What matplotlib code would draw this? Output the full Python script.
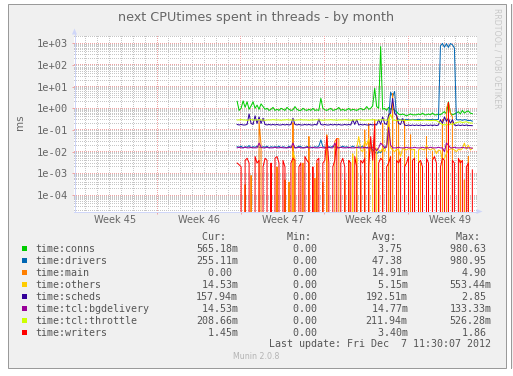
import numpy as np
import matplotlib
matplotlib.use("Agg")
import matplotlib.pyplot as plt
from matplotlib.patches import Rectangle, Polygon
from matplotlib.lines import Line2D
from matplotlib.colors import to_rgba
import matplotlib.transforms as mtransforms
from matplotlib.ticker import FixedLocator, NullLocator, FuncFormatter

W, H, DPI = 513, 376, 100

# ---------------- data ----------------
# time in days since Mon 5 Nov 2012 00:00, one sample every 4 hours
T_START = 13.70
T_STEP = 1.0 / 6.0

conns = [
    2.1, 0.8, 1.0, 2.2, 1.1, 2.0, 0.9, 1.3, 2.0, 1.0,
    1.4, 0.9, 1.6, 1.2, 0.9, 1.0, 0.8, 0.9, 1.1, 0.8,
    0.9, 0.8, 1.0, 0.9, 0.8, 1.1, 0.9, 0.8, 0.85, 1.2,
    0.9, 0.8, 0.8, 1.0, 0.85, 0.8, 0.9, 0.8, 1.0, 0.8,
    0.85, 0.8, 2.9, 1.0, 0.85, 0.8, 0.9, 1.0, 0.8, 0.85,
    0.9, 1.1, 0.8, 0.9, 0.8, 0.85, 1.0, 0.8, 0.9, 0.85,
    0.8, 0.9, 1.0, 0.85, 0.9, 1.2, 0.9, 1.0, 1.3, 8.4,
    1.2, 1.0, 700.0, 0.9, 1.0, 0.8, 1.1, 0.9, 1.0, 0.8,
    0.7, 0.55, 0.5, 0.55, 0.5, 0.45, 0.5, 0.55, 0.5, 0.5,
    0.5, 0.55, 0.5, 0.6, 0.5, 0.5, 0.55, 0.5, 0.6, 0.5,
    0.5, 0.55, 0.5, 0.6, 0.7, 0.55, 2.0, 0.6, 0.5, 0.55,
    0.6, 0.7, 0.55, 0.8, 0.6, 0.7, 0.75, 0.6, 0.565,
]
drivers = [
    0.017, 0.016, 0.018, 0.015, 0.017, 0.016, 0.019, 0.015, 0.017, 0.016,
    0.018, 0.016, 0.015, 0.017, 0.016, 0.018, 0.015, 0.017, 0.016, 0.017,
    0.016, 0.018, 0.015, 0.017, 0.016, 0.015, 0.018, 0.016, 0.017, 0.015,
    0.016, 0.018, 0.017, 0.015, 0.016, 0.017, 0.018, 0.016, 0.015, 0.017,
    0.016, 0.018, 0.035, 0.017, 0.016, 0.015, 0.017, 0.016, 0.018, 0.016,
    0.017, 0.015, 0.016, 0.018, 0.016, 0.017, 0.015, 0.016, 0.018, 0.016,
    0.015, 0.017, 0.016, 0.018, 0.016, 0.015, 0.017, 0.016, 0.012, 0.010,
    0.008, 0.010, 0.009, 0.012, 0.016, 0.020, 0.30, 5.5, 3.5, 6.0,
    0.40, 0.31, 0.30, 0.32, 0.30, 0.31, 0.30, 0.29, 0.31, 0.30,
    0.30, 0.31, 0.30, 0.29, 0.30, 0.31, 0.30, 0.30, 0.31, 0.30,
    0.30, 0.31, 750.0, 980.95, 650.0, 960.0, 640.0, 970.0, 850.0, 600.0,
    0.30, 0.29, 0.30, 0.28, 0.30, 0.29, 0.27, 0.28, 0.255,
]
main = [
    0, 0, 0, 0, 0.0003, 0, 0, 0.0008, 0, 0,
    0, 0.25, 0.02, 0, 0, 0, 0, 0.001, 0, 0,
    0.002, 0, 0, 0, 0.0005, 0, 0.0004, 0, 0.22, 0,
    0, 0, 0, 0.003, 0, 0, 0.05, 0, 0, 0.0006,
    0, 0, 0, 0.0004, 0, 0.06, 0, 0, 0, 0.03,
    0.04, 0.04, 0, 0, 0.0005, 0, 0.004, 0, 0, 0,
    0.005, 0, 0.0008, 0, 0.1, 0, 0.2, 0, 0, 0.3,
    0, 0.0006, 0, 0.2, 0, 0, 0.4, 0, 4.9, 0,
    0.5, 0.2, 0, 0, 0.3, 0, 0, 0.06, 0, 0.0005,
    0, 0, 0.003, 0, 0, 0.05, 0, 0, 0.01, 0,
    0.0007, 0, 0, 0.3, 0, 1.0, 1.8, 0.6, 0.4, 0,
    0, 0, 0.004, 0, 0.0005, 0, 0.006, 0, 0,
]
others = [
    0, 0, 0, 0, 0, 0, 0, 0, 0, 0,
    0, 0, 0, 0, 0, 0, 0, 0, 0, 0,
    0, 0, 0, 0, 0, 0, 0, 0, 0.01, 0.005,
    0, 0, 0, 0, 0, 0, 0, 0, 0, 0,
    0.003, 0, 0, 0, 0, 0, 0, 0, 0, 0,
    0, 0, 0, 0, 0, 0, 0, 0, 0.008, 0,
    0.015, 0.05, 0.012, 0.01, 0.03, 0.02, 0.04, 0.012, 0.01, 0,
    0.015, 0.012, 0.01, 0.015, 0.01, 0.02, 0.553, 0.015, 0.012, 0.01,
    0.013, 0.012, 0.006, 0.014, 0.013, 0.012, 0.014, 0.013, 0.012, 0.013,
    0, 0.012, 0.014, 0.013, 0.012, 0.02, 0.013, 0.012, 0.014, 0.013,
    0.008, 0.012, 0.011, 0.004, 0.005, 0.008, 0.012, 0.013, 0.014, 0.012,
    0.01, 0.013, 0.012, 0.014, 0.025, 0.013, 0.02, 0.012, 0.01453,
]
scheds = [
    0.18, 0.17, 0.18, 0.17, 0.17, 0.18, 0.55, 0.2, 0.18, 0.45,
    0.2, 0.4, 0.2, 0.35, 0.18, 0.17, 0.18, 0.17, 0.18, 0.17,
    0.18, 0.17, 0.17, 0.18, 0.17, 0.18, 0.17, 0.18, 0.35, 0.18,
    0.17, 0.18, 0.17, 0.17, 0.18, 0.17, 0.18, 0.17, 0.17, 0.18,
    0.17, 0.32, 0.18, 0.17, 0.18, 0.17, 0.17, 0.18, 0.17, 0.18,
    0.17, 0.18, 0.17, 0.17, 0.18, 0.17, 0.18, 0.17, 0.3, 0.18,
    0.3, 0.17, 0.18, 0.17, 0.18, 0.17, 0.17, 0.18, 0.17, 0.18,
    0.17, 0.3, 0.18, 0.4, 0.2, 0.18, 0.5, 0.6, 2.85, 0.6,
    0.45, 0.2, 0.18, 0.33, 0.17, 0.16, 0.17, 0.16, 0.17, 0.16,
    0.17, 0.16, 0.17, 0.16, 0.16, 0.17, 0.16, 0.17, 0.16, 0.17,
    0.16, 0.17, 0.3, 0.2, 0.4, 0.25, 0.35, 0.2, 0.3, 0.17,
    0.16, 0.17, 0.16, 0.17, 0.16, 0.17, 0.16, 0.16, 0.158,
]
bgdelivery = [
    0.015, 0.016, 0.015, 0.015, 0.016, 0.015, 0.015, 0.016, 0.015, 0.015,
    0.015, 0.025, 0.016, 0.015, 0.015, 0.016, 0.015, 0.015, 0.015, 0.016,
    0.015, 0.015, 0.016, 0.015, 0.015, 0.015, 0.016, 0.015, 0.025, 0.015,
    0.015, 0.016, 0.015, 0.015, 0.015, 0.016, 0.015, 0.015, 0.016, 0.015,
    0.015, 0.015, 0.016, 0.015, 0.015, 0.015, 0.016, 0.015, 0.015, 0.025,
    0.015, 0.015, 0.016, 0.015, 0.015, 0.015, 0.016, 0.015, 0.015, 0.015,
    0.016, 0.015, 0.015, 0.015, 0.016, 0.015, 0.015, 0.015, 0.016, 0.015,
    0.011, 0.015, 0.025, 0.02, 0.015, 0.016, 0.133, 0.02, 0.015, 0.015,
    0.015, 0.016, 0.015, 0.015, 0.015, 0.016, 0.015, 0.015, 0.015, 0.016,
    0.015, 0.015, 0.015, 0.016, 0.015, 0.015, 0.015, 0.016, 0.015, 0.015,
    0.015, 0.016, 0.015, 0.015, 0.01, 0.025, 0.02, 0.015, 0.015, 0.016,
    0.015, 0.015, 0.015, 0.016, 0.015, 0.015, 0.015, 0.015, 0.01453,
]
throttle = [
    0.29, 0.29, 0.30, 0.29, 0.29, 0.28, 0.29, 0.30, 0.29, 0.29,
    0.29, 0.30, 0.29, 0.29, 0.28, 0.29, 0.29, 0.29, 0.30, 0.29,
    0.29, 0.29, 0.28, 0.29, 0.29, 0.30, 0.29, 0.29, 0.29, 0.28,
    0.29, 0.29, 0.30, 0.29, 0.29, 0.29, 0.28, 0.29, 0.29, 0.29,
    0.30, 0.29, 0.29, 0.28, 0.29, 0.29, 0.29, 0.30, 0.29, 0.29,
    0.28, 0.29, 0.29, 0.29, 0.30, 0.29, 0.29, 0.28, 0.29, 0.29,
    0.29, 0.30, 0.29, 0.29, 0.28, 0.29, 0.29, 0.29, 0.30, 0.29,
    0.28, 0.29, 0.29, 0.30, 0.29, 0.28, 0.29, 0.526, 0.29, 0.28,
    0.28, 0.28, 0.29, 0.28, 0.28, 0.27, 0.28, 0.28, 0.29, 0.28,
    0.28, 0.27, 0.28, 0.28, 0.29, 0.28, 0.28, 0.27, 0.28, 0.28,
    0.27, 0.24, 0.20, 0.18, 0.17, 0.18, 0.17, 0.19, 0.18, 0.20,
    0.22, 0.23, 0.24, 0.22, 0.23, 0.24, 0.22, 0.21, 0.20866,
]
writers = [
    0.003, 0.0025, 0.002, 0.0, 0.004, 0.005, 0.003, 0.0, 0.0, 0.006,
    0.003, 0.004, 0.0, 0.002, 0.005, 0.004, 0.0, 0.003, 0.0, 0.005,
    0.006, 0.003, 0.0, 0.004, 0.002, 0.0, 0.0, 0.003, 0.005, 0.004,
    0.0, 0.002, 0.003, 0.0, 0.006, 0.004, 0.003, 0.0, 0.002, 0.0,
    0.004, 0.005, 0.0, 0.003, 0.004, 0.05, 0.003, 0.0, 0.002, 0.004,
    0.04, 0.0, 0.003, 0.005, 0.002, 0.0, 0.004, 0.003, 0.0, 0.006,
    0.002, 0.0, 0.004, 0.003, 0.005, 0.0, 0.002, 0.05, 0.004, 0.2,
    0.0, 0.003, 0.005, 0.004, 0.0, 0.002, 0.003, 0.006, 0.0, 0.0,
    0.004, 0.003, 0.005, 0.0, 0.002, 0.003, 0.006, 0.0, 0.004, 0.005,
    0.0, 0.003, 0.004, 0.002, 0.0, 0.005, 0.003, 0.0, 0.004, 0.006,
    0.003, 0.0, 0.002, 0.005, 0.004, 0.0, 1.86, 0.0, 0.004, 0.003,
    0.0, 0.005, 0.003, 0.004, 0.0, 0.002, 0.003, 0.0, 0.00145,
]

series_names = ["time:conns", "time:drivers", "time:main", "time:others",
                "time:scheds", "time:tcl:bgdelivery", "time:tcl:throttle",
                "time:writers"]
series_values = [conns, drivers, main, others, scheds, bgdelivery, throttle, writers]
series_colors = ["#00CC00", "#0066B3", "#FF8000", "#FFCC00",
                 "#330099", "#990099", "#CCFF00", "#FF0000"]

cur_vals = ["565.18m", "255.11m", "0.00", "14.53m", "157.94m", "14.53m", "208.66m", "1.45m"]
min_vals = ["0.00", "0.00", "0.00", "0.00", "0.00", "0.00", "0.00", "0.00"]
avg_vals = ["3.75", "47.38", "14.91m", "5.15m", "192.51m", "14.77m", "211.94m", "3.40m"]
max_vals = ["980.63", "980.95", "4.90", "553.44m", "2.85", "133.33m", "526.28m", "1.86"]

week_labels = ["Week 45", "Week 46", "Week 47", "Week 48", "Week 49"]
title = "next CPUtimes spent in threads - by month"
y_label = "ms"
last_update = "Last update: Fri Dec  7 11:30:07 2012"
version = "Munin 2.0.8"
watermark = "RRDTOOL / TOBI OETIKER"

# ---------------- style ----------------
FONT_C = "#666666"
GRID_C = "#C6C6C6"
MGRID_C = "#EFA4A4"
AXIS_C = "#CFD6F8"
X_MIN, X_MAX = 0.06, 33.756
Y_MIN, Y_MAX = 1.66e-5, 2148.0
AX_L, AX_T, AX_W, AX_H = 74, 36, 403, 176   # plot area in pixels


def fx(x):
    return x / W


def fy(y):
    return 1.0 - y / H


fig = plt.figure(figsize=(W / DPI, H / DPI), dpi=DPI)
fig.patch.set_facecolor("white")

# outer canvas with border
fig.add_artist(Rectangle((fx(7.5), fy(367.5)), (505.5 - 7.5) / W, (367.5 - 3.5) / H,
                         transform=fig.transFigure, facecolor="#F0F0F0",
                         edgecolor="#9A9A9A", linewidth=0.72, zorder=0))
fig.add_artist(Rectangle((fx(511), fy(367.5)), 2 / W, (367.5 - 3.5) / H,
                         transform=fig.transFigure, facecolor="#F0F0F0",
                         edgecolor="none", zorder=0))
fig.add_artist(Line2D([fx(510.5), fx(510.5)], [fy(3.5), fy(367.5)],
                      transform=fig.transFigure, color="#9A9A9A", linewidth=0.72))
# white plot canvas
fig.add_artist(Rectangle((fx(AX_L), fy(AX_T + AX_H)), AX_W / W, AX_H / H,
                         transform=fig.transFigure, facecolor="white",
                         edgecolor="none", zorder=0.1))

ax = fig.add_axes([fx(AX_L), fy(AX_T + AX_H), AX_W / W, AX_H / H])
ax.set_zorder(1)
ax.patch.set_visible(False)
ax.set_yscale("log")
ax.set_xlim(X_MIN, X_MAX)
ax.set_ylim(Y_MIN, Y_MAX)
for s in ax.spines.values():
    s.set_visible(False)

# pixel-exact dotted grid drawn as an image beneath the axes
grid = np.zeros((AX_H, AX_W, 4))
top_disp = H - AX_T
minor_c, major_c = np.array(to_rgba(GRID_C)), np.array(to_rgba(MGRID_C))
hlines = []
for e in range(-5, 4):
    for k in range(1, 10):
        v = k * 10.0 ** e
        if Y_MIN < v < Y_MAX:
            hlines.append((v, k == 1))
vlines = [(d, d % 7 == 0) for d in range(1, 34)]
for is_major in (False, True):
    col = major_c if is_major else minor_c
    for v, mj in hlines:
        if mj != is_major:
            continue
        dy = ax.transData.transform([[X_MIN, v]])[0, 1]
        r = int(np.floor(top_disp - dy))
        if 0 <= r < AX_H:
            grid[r, 0::2] = col
    for d, mj in vlines:
        if mj != is_major:
            continue
        dx = ax.transData.transform([[d, 1.0]])[0, 0]
        c = int(np.floor(dx - AX_L))
        if 0 <= c < AX_W:
            grid[0::2, c] = col
fig.figimage(grid, xo=AX_L, yo=H - AX_T - AX_H, origin="upper", zorder=0.2)

# data lines
n = len(conns)
t = T_START + T_STEP * np.arange(n)
for i, (vals, col) in enumerate(zip(series_values, series_colors)):
    ax.plot(t, np.asarray(vals, dtype=float), color=col, lw=0.72, zorder=2 + i)

# y ticks
ax.yaxis.set_major_locator(FixedLocator([10.0 ** e for e in range(-4, 4)]))
ax.yaxis.set_minor_locator(NullLocator())
ax.yaxis.set_major_formatter(FuncFormatter(lambda v, p: f"{v:.0e}"))
ax.tick_params(axis="y", length=1.44, width=0.72, color=MGRID_C, pad=2.6,
               labelsize=7.5, labelcolor=FONT_C)
for lab in ax.get_yticklabels():
    lab.set_family("DejaVu Sans Mono")
# x ticks at week boundaries (no labels)
ax.xaxis.set_major_locator(FixedLocator([7, 14, 21, 28]))
ax.xaxis.set_minor_locator(NullLocator())
ax.set_xticklabels([])
ax.tick_params(axis="x", length=1.44, width=0.72, color=MGRID_C)

# week labels centred in each week
blend = mtransforms.blended_transform_factory(ax.transData, ax.transAxes)
for k, lab in enumerate(week_labels):
    ax.text(7 * k + 3.5, -(223.3 - 212) / 176, lab, transform=blend, ha="center",
            va="baseline", fontsize=7, color=FONT_C, family="DejaVu Sans")

# axis lines with arrows
fig.add_artist(Line2D([fx(74.5), fx(74.5)], [fy(212), fy(33)], transform=fig.transFigure,
                      color=AXIS_C, lw=0.72, zorder=5))
fig.add_artist(Line2D([fx(74), fx(478)], [fy(211.5), fy(211.5)], transform=fig.transFigure,
                      color=AXIS_C, lw=0.72, zorder=5))
fig.add_artist(Polygon([(fx(72), fy(34.5)), (fx(77), fy(34.5)), (fx(74.5), fy(28.5))],
                       closed=True, transform=fig.transFigure, facecolor=AXIS_C,
                       edgecolor="none", zorder=5))
fig.add_artist(Polygon([(fx(476.5), fy(209)), (fx(476.5), fy(214)), (fx(482.5), fy(211.5))],
                       closed=True, transform=fig.transFigure, facecolor=AXIS_C,
                       edgecolor="none", zorder=5))

# texts
fig.text(fx(256.3), fy(21.3), title, ha="center", va="baseline", fontsize=9.2,
         color=FONT_C, family="DejaVu Sans")
fig.text(fx(19.7), fy(122.5), y_label, rotation=90, ha="center", va="center",
         fontsize=7.5, color=FONT_C, family="DejaVu Sans")
fig.text(fx(497), fy(8), watermark, rotation=270, ha="center", va="top",
         fontsize=5.7, color="#C8C8C8", family="DejaVu Sans")

# legend
mono = dict(family="DejaVu Sans Mono", fontsize=7.2, color="#555555", va="baseline")
col_x = [196.0, 281.0, 365.5, 449.5]
headers = [" Cur:", " Min:", " Avg:", " Max:"]
for cx, hd in zip(col_x, headers):
    fig.text(fx(cx), fy(240.3), hd, ha="left", **mono)


def fmt(s):
    return (s if s.endswith("m") else s + " ").rjust(7)


for i, name in enumerate(series_names):
    base = 252.3 + 12 * i
    fig.add_artist(Rectangle((fx(22), fy(base - 1.3)), 5 / W, 5 / H,
                             transform=fig.transFigure, facecolor=series_colors[i],
                             edgecolor="none"))
    fig.text(fx(35.7), fy(base), name, ha="left", **mono)
    for cx, vals in zip(col_x, [cur_vals, min_vals, avg_vals, max_vals]):
        fig.text(fx(cx), fy(base), fmt(vals[i]), ha="left", **mono)

fig.text(fx(268.8), fy(347.2), last_update, ha="left", **mono)
fig.text(fx(256.3), fy(359.3), version, ha="center", va="baseline", fontsize=5.7,
         color="#B4B4B4", family="DejaVu Sans")

fig.savefig("out.png", dpi=DPI)
